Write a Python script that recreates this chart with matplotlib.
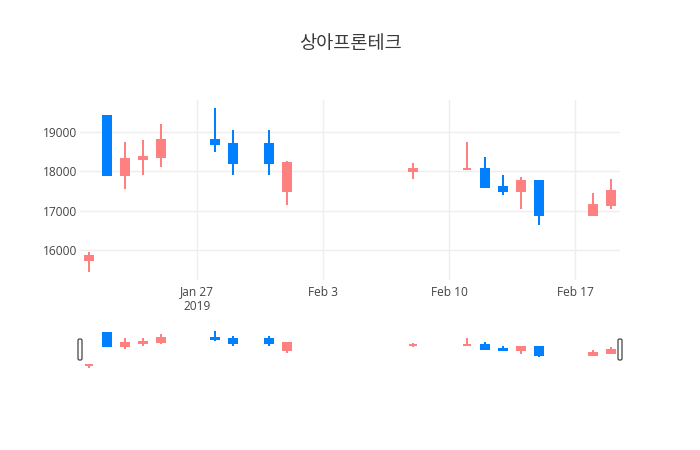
import matplotlib
matplotlib.use("Agg")
import matplotlib.pyplot as plt
import matplotlib.dates as mdates
from matplotlib.patches import FancyBboxPatch
from matplotlib.transforms import IdentityTransform
import pandas as pd

dates = ['2019-01-21', '2019-01-22', '2019-01-23', '2019-01-24', '2019-01-25',
         '2019-01-28', '2019-01-29', '2019-01-31', '2019-02-01', '2019-02-08',
         '2019-02-11', '2019-02-12', '2019-02-13', '2019-02-14', '2019-02-15',
         '2019-02-18', '2019-02-19']
opens = [15750, 19400, 17900, 18300, 18350, 18800, 18700, 18700, 17500, 18000,
         18050, 18050, 17600, 17500, 17750, 16900, 17150]
highs = [15950, 19400, 18750, 18800, 19200, 19600, 19050, 19050, 18250, 18200,
         18750, 18350, 17900, 17850, 17750, 17450, 17800]
lows = [15450, 17900, 17550, 17900, 18100, 18500, 17900, 17900, 17150, 17800,
        18050, 17600, 17400, 17050, 16650, 16900, 17050]
closes = [15850, 17900, 18300, 18350, 18800, 18700, 18200, 18200, 18200, 18050,
          18060, 17600, 17500, 17750, 16900, 17150, 17500]

title = '상아프론테크'
tick_dates = ['2019-01-27', '2019-02-03', '2019-02-10', '2019-02-17']
yticks = [16000, 17000, 18000, 19000]

UP = '#FF8080'
DOWN = '#0080FF'
TXT = '#444444'
GRID = '#eeeeee'

x = mdates.date2num(pd.to_datetime(dates))
colors = [UP if c > o else DOWN for o, c in zip(opens, closes)]

fig = plt.figure(figsize=(7, 4.5), dpi=100)
ax = fig.add_axes([80 / 700, 1 - 280 / 450, 540 / 700, 180 / 450])
sl = fig.add_axes([80 / 700, 1 - 370 / 450, 540 / 700, 41 / 450])


def candles(a):
    a.vlines(x, lows, highs, colors=colors, linewidth=1.44, zorder=2)
    bottoms = [min(o, c) for o, c in zip(opens, closes)]
    heights = [abs(c - o) for o, c in zip(opens, closes)]
    a.bar(x, heights, bottom=bottoms, width=0.48, color=colors,
          edgecolor=colors, linewidth=1.44, zorder=3)


lo, hi = min(lows), max(highs)
pad = (hi - lo) * 0.05
xmin, xmax = x[0] - 0.5, x[-1] + 0.5

for a in (ax, sl):
    candles(a)
    a.set_xlim(xmin, xmax)
    a.set_ylim(lo - pad, hi + pad)
    for s in a.spines.values():
        s.set_visible(False)

ax.set_yticks(yticks)
ax.set_yticklabels([str(v) for v in yticks])
tx = mdates.date2num(pd.to_datetime(tick_dates))
ax.set_xticks(tx)
labels = []
for i, d in enumerate(pd.to_datetime(tick_dates)):
    s = d.strftime('%b ') + str(d.day)
    if i == 0:
        s += '\n' + str(d.year)
    labels.append(s)
ax.set_xticklabels(labels)
ax.grid(True, color=GRID, linewidth=1, zorder=0)
ax.set_axisbelow(True)
ax.tick_params(axis='both', length=0, colors=TXT, labelsize=8.6,
               labelfontfamily='Open Sans')
ax.tick_params(axis='x', pad=4)
ax.tick_params(axis='y', pad=2)
for lab in ax.get_xticklabels():
    lab.set_linespacing(1.15)

sl.set_xticks([])
sl.set_yticks([])

# range slider handles at both ends
fig.canvas.draw()
bb = sl.get_window_extent()
hh = 21
for hx in (bb.x0, bb.x1):
    fig.patches.append(FancyBboxPatch(
        (hx - 2, bb.y0 + (bb.height - hh) / 2), 4, hh,
        boxstyle='round,pad=0,rounding_size=1.5', transform=IdentityTransform(),
        facecolor='white', edgecolor='#444444', linewidth=0.9, zorder=5))

fig.text(0.5, 1 - 44 / 450, title, ha='center', va='center', fontsize=13.4,
         color='#3a3a3a', family=['Noto Sans CJK KR', 'DejaVu Sans'])

fig.savefig('out.png', dpi=100)
